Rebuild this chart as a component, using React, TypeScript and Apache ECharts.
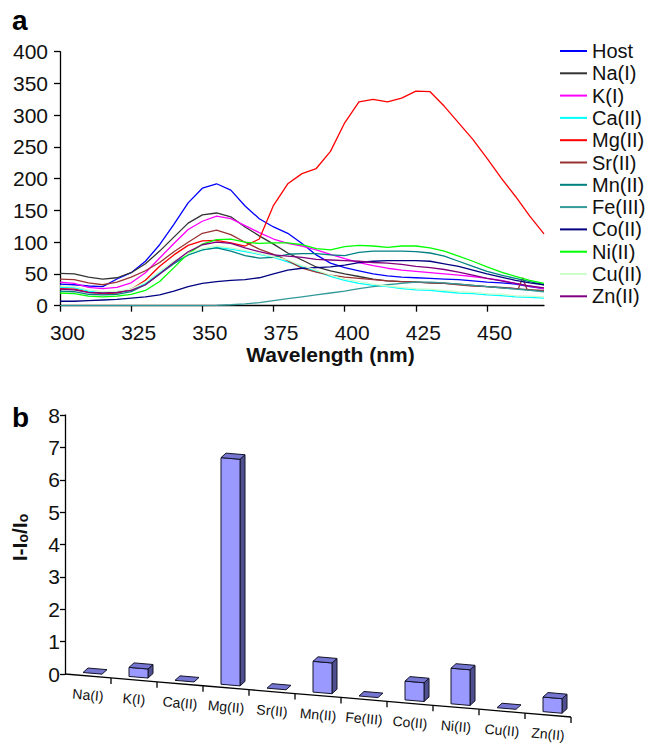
import React, { useEffect, useRef } from "react";
import * as echarts from "echarts";

const FONT = '"Liberation Sans", Arial, Helvetica, sans-serif';

// ---- Panel a: emission spectra ----
const wavelengths = [
  300, 305, 310, 315, 320, 325, 330, 335, 340, 345, 350, 355, 360, 365, 370, 375, 380, 385,
  390, 395, 400, 405, 410, 415, 420, 425, 430, 435, 440, 445, 450, 455, 460, 465, 470,
];
const wavelengthTicks = [300, 325, 350, 375, 400, 425, 450];

const host = [34, 33, 31, 30, 42, 52, 70, 96, 128, 162, 185, 192, 182, 157, 137, 124, 114, 98, 80, 67, 60, 55, 50, 47, 45, 44, 43, 42, 41, 39, 37, 36, 34, 30, 27];
const na = [51, 50, 45, 42, 44, 52, 66, 86, 108, 130, 143, 146, 140, 124, 110, 97, 83, 72, 61, 55, 50, 46, 42, 39, 38, 37, 36, 35, 34, 32, 30, 29, 27, 25, 23];
const k = [37, 35, 29, 27, 29, 36, 52, 75, 98, 120, 133, 141, 137, 126, 115, 105, 98, 94, 88, 81, 74, 68, 63, 59, 56, 54, 52, 50, 48, 46, 43, 40, 35, 31, 27];
const ca = [29, 28, 23, 20, 21, 24, 35, 52, 68, 80, 88, 92, 89, 85, 81, 76, 69, 61, 54, 46, 40, 35, 32, 30, 27, 25, 24, 22, 20, 19, 17, 16, 14, 13, 12];
const mg = [27, 26, 21, 19, 20, 26, 40, 62, 80, 95, 102, 103, 99, 94, 105, 158, 192, 208, 216, 243, 288, 321, 325, 321, 327, 338, 337, 314, 288, 262, 232, 201, 172, 141, 113];
const sr = [42, 41, 36, 33, 37, 45, 55, 68, 85, 100, 114, 119, 112, 100, 89, 81, 71, 59, 53, 48, 45, 43, 41, 39, 38, 37, 36, 35, 33, 31, 30, 28, 27, 25, 24];
const srSpike = [[461, 27], [462.5, 44], [464, 26]];
const mn = [23, 22, 18, 17, 18, 22, 33, 50, 66, 80, 88, 91, 86, 79, 75, 76, 81, 82, 82, 80, 79, 84, 86, 86, 86, 85, 83, 78, 70, 62, 54, 48, 43, 38, 33];
const fe = [0, 0, 0, 0, 0, 0, 0, 0, 0, 0, 0, 0.5, 1.5, 3, 5, 8, 11, 14, 17, 20, 23, 27, 30, 33, 35, 37, 37, 36, 34, 32, 30, 28, 26, 24, 22];
const co = [7, 7, 8, 9, 10, 12, 14, 17, 23, 30, 35, 38, 40, 41, 44, 50, 56, 59, 60, 61, 64, 68, 70, 71, 71, 71, 70, 66, 62, 56, 50, 45, 40, 36, 33];
const ni = [20, 19, 15, 14, 15, 18, 24, 38, 60, 82, 97, 104, 105, 100, 98, 99, 99, 96, 90, 88, 93, 95, 94, 92, 94, 94, 91, 86, 78, 70, 61, 53, 46, 40, 35];
const cu = [31, 30, 25, 22, 23, 26, 37, 54, 70, 82, 90, 94, 91, 87, 82, 77, 72, 63, 56, 48, 42, 38, 34, 31, 29, 27, 26, 24, 22, 21, 19, 18, 16, 15, 14];
const zn = [26, 25, 21, 20, 21, 24, 33, 50, 68, 85, 96, 100, 98, 91, 85, 80, 78, 76, 73, 72, 71, 70, 68, 67, 65, 62, 60, 57, 53, 48, 43, 39, 35, 31, 28];

const spectra = [
  { name: "Host", color: "#0000ff", values: host },
  { name: "Na(I)", color: "#333333", values: na },
  { name: "K(I)", color: "#ff00ff", values: k },
  { name: "Ca(II)", color: "#00ffff", values: ca },
  { name: "Mg(II)", color: "#ff0000", values: mg },
  { name: "Sr(II)", color: "#993333", values: sr, extra: srSpike },
  { name: "Mn(II)", color: "#008080", values: mn },
  { name: "Fe(III)", color: "#339999", values: fe },
  { name: "Co(II)", color: "#000080", values: co },
  { name: "Ni(II)", color: "#00ff00", values: ni },
  { name: "Cu(II)", color: "#ccffcc", values: cu },
  { name: "Zn(II)", color: "#800080", values: zn },
];

// ---- Panel b: relative enhancement ----
const ions = ["Na(I)", "K(I)", "Ca(II)", "Mg(II)", "Sr(II)", "Mn(II)", "Fe(III)", "Co(II)", "Ni(II)", "Cu(II)", "Zn(II)"];
const ratio = [0, 0.28, 0, 7.0, 0, 0.95, 0, 0.58, 1.1, 0, 0.45];

const FLOOR_SLOPE = 0.085;

function buildOption() {
  const lineSeries = spectra.map((s) => {
    const pts: number[][] = wavelengths.map((w, i) => [w, s.values[i]]);
    if (s.extra) {
      s.extra.forEach((p) => pts.push(p));
      pts.sort((a, b) => a[0] - b[0]);
    }
    return {
      type: "line",
      name: s.name,
      xAxisIndex: 0,
      yAxisIndex: 0,
      data: pts,
      symbol: "none",
      showSymbol: false,
      lineStyle: { color: s.color, width: 1.3 },
      itemStyle: { color: s.color },
      emphasis: { disabled: true },
    };
  });

  // wavelength tick labels, set slightly to the right of their ticks
  const tickLabelSeries = {
    type: "custom",
    xAxisIndex: 0,
    yAxisIndex: 0,
    clip: false,
    silent: true,
    data: wavelengthTicks.map((w) => [w, 0]),
    renderItem: (_params: any, api: any) => {
      const [x, y] = api.coord([api.value(0), 0]);
      return {
        type: "text",
        x: x + 7.5,
        y: y + 26.5,
        style: {
          text: String(api.value(0)),
          fill: "#111",
          font: `21px ${FONT}`,
          align: "center",
          verticalAlign: "middle",
        },
      };
    },
  };

  const barSeries = {
    type: "custom",
    xAxisIndex: 1,
    yAxisIndex: 1,
    clip: false,
    data: ratio.map((v, i) => [i, v]),
    renderItem: (params: any, api: any) => {
      const i = api.value(0);
      const v = api.value(1);
      const [cx, y0] = api.coord([i, 0]);
      const unit = y0 - api.coord([i, 1])[1];
      const band = api.size([1, 0])[0];
      const gx = params.coordSys.x;
      const floorY = (x: number) => y0 + FLOOR_SLOPE * (x - gx);
      const left = cx - band / 2;
      const right = cx + band / 2;
      const children: any[] = [];

      // sloped category axis segment, ticks and label
      children.push({
        type: "line",
        shape: { x1: left, y1: floorY(left), x2: right, y2: floorY(right) },
        style: { stroke: "#000", lineWidth: 1.3 },
      });
      children.push({
        type: "line",
        shape: { x1: right, y1: floorY(right), x2: right, y2: floorY(right) + 6 },
        style: { stroke: "#000", lineWidth: 1.3 },
      });
      children.push({
        type: "text",
        x: cx,
        y: floorY(cx) + 19,
        rotation: -Math.atan(FLOOR_SLOPE),
        style: {
          text: ions[i],
          fill: "#111",
          font: `14px ${FONT}`,
          align: "center",
          verticalAlign: "middle",
        },
      });

      // 3D-style column
      const fl = cx - 5;
      const fr = cx + 14;
      const dx = 5;
      const dy = -4.5;
      const bl = floorY(fl) - 3;
      const br = floorY(fr) - 3;
      const h = v * unit;
      const edge = { stroke: "#141428", lineWidth: 1 };
      if (h > 0.5) {
        children.push({
          type: "polygon",
          shape: { points: [[fr, br], [fr + dx, br + dy], [fr + dx, br + dy - h], [fr, br - h]] },
          style: { fill: "#4f4f8f", ...edge },
        });
        children.push({
          type: "polygon",
          shape: { points: [[fl, bl], [fr, br], [fr, br - h], [fl, bl - h]] },
          style: { fill: "#9999ff", ...edge },
        });
      }
      children.push({
        type: "polygon",
        shape: { points: [[fl, bl - h], [fr, br - h], [fr + dx, br - h + dy], [fl + dx, bl - h + dy]] },
        style: { fill: "#7575d2", ...edge },
      });
      return { type: "group", children };
    },
  };

  const axisLine = { show: true, lineStyle: { color: "#000", width: 1.3 } };
  const labelStyle = { color: "#111", fontSize: 21, fontFamily: FONT };

  return {
    animation: false,
    backgroundColor: "#fff",
    textStyle: { fontFamily: FONT },
    grid: [
      { left: 60, top: 51.7, width: 484, height: 254 },
      { left: 65, top: 415, width: 506, height: 259 },
    ],
    legend: {
      orient: "vertical",
      left: 560,
      top: 40,
      padding: 0,
      icon: "rect",
      itemWidth: 27,
      itemHeight: 2,
      itemGap: 0.3,
      itemTextGap: 3,
      textStyle: { color: "#111", fontSize: 20, lineHeight: 22, fontFamily: FONT },
      data: spectra.map((s) => s.name),
      selectedMode: false,
    },
    xAxis: [
      {
        type: "value",
        gridIndex: 0,
        min: 300,
        max: 470,
        interval: 25,
        axisLine,
        axisTick: { show: true, length: 6, lineStyle: { color: "#000", width: 1.3 }, customValues: wavelengthTicks },
        axisLabel: { show: false },
        splitLine: { show: false },
        name: "Wavelength (nm)",
        nameLocation: "middle",
        nameGap: 38,
        nameTextStyle: { color: "#111", fontSize: 21, fontWeight: "bold", fontFamily: FONT, padding: [0, 0, 0, 57] },
      },
      {
        type: "category",
        gridIndex: 1,
        data: ions,
        axisLine: { show: false },
        axisTick: { show: false },
        axisLabel: { show: false },
        splitLine: { show: false },
      },
    ],
    yAxis: [
      {
        type: "value",
        gridIndex: 0,
        min: 0,
        max: 400,
        interval: 50,
        axisLine,
        axisTick: { show: true, length: 6, lineStyle: { color: "#000", width: 1.3 } },
        axisLabel: { ...labelStyle, margin: 12 },
        splitLine: { show: false },
      },
      {
        type: "value",
        gridIndex: 1,
        min: 0,
        max: 8,
        interval: 1,
        axisLine,
        axisTick: { show: true, length: 5, lineStyle: { color: "#000", width: 1.3 } },
        axisLabel: { ...labelStyle, margin: 5 },
        splitLine: { show: false },
        name: "{m|I-I}{s|o}{m|/I}{s|o}",
        nameLocation: "middle",
        nameGap: 35,
        nameRotate: 90,
        nameTextStyle: {
          padding: [0, 0, 0, 14],
          rich: {
            m: { fontSize: 21, fontWeight: "bold", fontFamily: FONT, color: "#111", verticalAlign: "bottom" },
            s: { fontSize: 14, fontWeight: "bold", fontFamily: FONT, color: "#111", verticalAlign: "bottom", padding: [6, 0, 0, 0] },
          },
        },
      },
    ],
    graphic: [
      { type: "text", left: 12, top: 6, style: { text: "a", font: `bold 28px ${FONT}`, fill: "#000" } },
      { type: "text", left: 12, top: 403, style: { text: "b", font: `bold 28px ${FONT}`, fill: "#000" } },
    ],
    series: [...lineSeries, tickLabelSeries, barSeries],
  };
}

export default function App() {
  const ref = useRef<HTMLDivElement>(null);
  useEffect(() => {
    if (!ref.current) return;
    const chart = echarts.init(ref.current, undefined, { renderer: "svg" });
    chart.setOption(buildOption() as any);
    return () => chart.dispose();
  }, []);
  return (
    <div
      ref={ref}
      style={{ position: "absolute", left: 0, top: 0, width: 645, height: 743, background: "#fff" }}
    />
  );
}
